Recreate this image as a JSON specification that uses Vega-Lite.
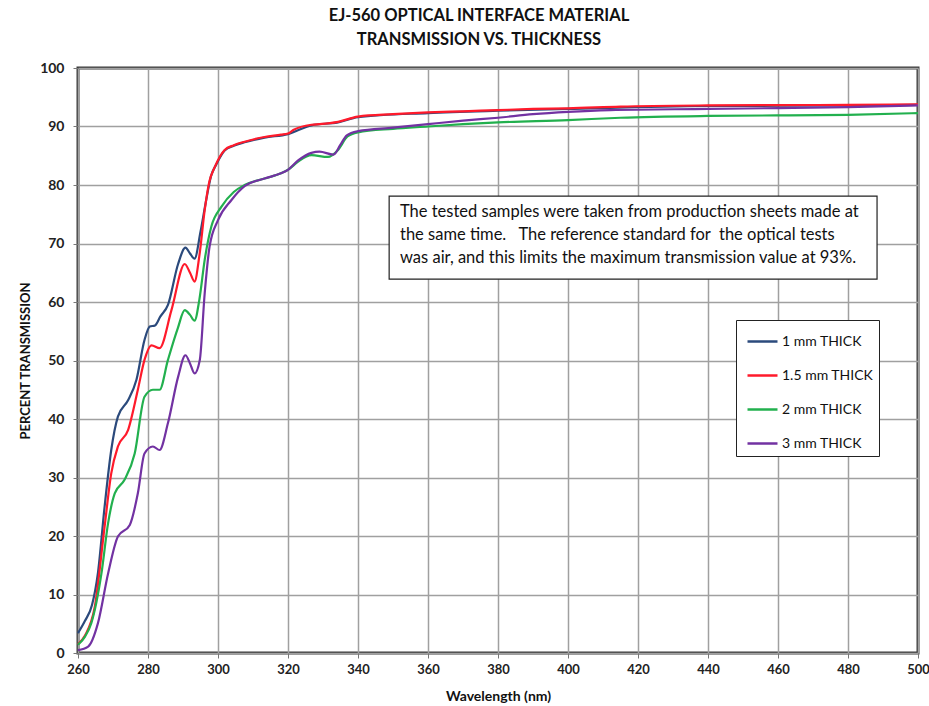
{
  "$schema": "https://vega.github.io/schema/vega-lite/v6.json",
  "width": 840,
  "height": 585,
  "autosize": {"type": "none"},
  "padding": {"left": 78, "top": 68, "right": 11, "bottom": 53},
  "background": "white",
  "title": {
    "text": ["EJ-560 OPTICAL INTERFACE MATERIAL", "TRANSMISSION VS. THICKNESS"],
    "anchor": "middle",
    "frame": "group",
    "dx": -19,
    "offset": 13,
    "fontSize": 16.5,
    "font": "Lato",
    "fontWeight": "bold",
    "lineHeight": 24,
    "color": "#111"
  },
  "config": {
    "view": {"stroke": "#3a3a3a", "strokeWidth": 3},
    "axis": {
      "domain": false,
      "labelFlush": false,
      "gridColor": "#a0a0a0",
      "gridWidth": 1.5,
      "gridOpacity": 1,
      "tickColor": "#777",
      "tickSize": 5,
      "labelFont": "Lato",
      "labelFontWeight": "bold",
      "labelColor": "#222",
      "titleFont": "Lato",
      "titleFontWeight": "bold",
      "titleColor": "#111"
    },
    "legend": {
      "orient": "none",
      "legendX": 658,
      "legendY": 252,
      "symbolType": "stroke",
      "symbolSize": 900,
      "symbolStrokeWidth": 2.5,
      "symbolOffset": 5,
      "labelFont": "Lato",
      "labelFontSize": 14,
      "labelColor": "#111",
      "labelOffset": 3,
      "strokeColor": "#222",
      "fillColor": "white",
      "padding": 5,
      "rowPadding": 10
    }
  },
  "datasets": {
    "spectra": [
      {"sample": "1 mm THICK", "wavelength": 260, "transmission": 3.4},
      {"sample": "1 mm THICK", "wavelength": 262, "transmission": 5.5},
      {"sample": "1 mm THICK", "wavelength": 264, "transmission": 8.2},
      {"sample": "1 mm THICK", "wavelength": 265.7, "transmission": 13.7},
      {"sample": "1 mm THICK", "wavelength": 267.6, "transmission": 25},
      {"sample": "1 mm THICK", "wavelength": 269.5, "transmission": 34.7},
      {"sample": "1 mm THICK", "wavelength": 271.4, "transmission": 40.4},
      {"sample": "1 mm THICK", "wavelength": 274.3, "transmission": 43.2},
      {"sample": "1 mm THICK", "wavelength": 276.7, "transmission": 46.7},
      {"sample": "1 mm THICK", "wavelength": 279, "transmission": 53.5},
      {"sample": "1 mm THICK", "wavelength": 280.5, "transmission": 55.8},
      {"sample": "1 mm THICK", "wavelength": 282, "transmission": 56},
      {"sample": "1 mm THICK", "wavelength": 283.5, "transmission": 57.5},
      {"sample": "1 mm THICK", "wavelength": 285.7, "transmission": 59.5},
      {"sample": "1 mm THICK", "wavelength": 288.6, "transmission": 66.5},
      {"sample": "1 mm THICK", "wavelength": 290.7, "transmission": 69.3},
      {"sample": "1 mm THICK", "wavelength": 292, "transmission": 68.3},
      {"sample": "1 mm THICK", "wavelength": 293.3, "transmission": 67.4},
      {"sample": "1 mm THICK", "wavelength": 295, "transmission": 72},
      {"sample": "1 mm THICK", "wavelength": 296.5, "transmission": 77},
      {"sample": "1 mm THICK", "wavelength": 298, "transmission": 81.5},
      {"sample": "1 mm THICK", "wavelength": 299.5, "transmission": 83.5},
      {"sample": "1 mm THICK", "wavelength": 301.9, "transmission": 85.9},
      {"sample": "1 mm THICK", "wavelength": 304.5, "transmission": 86.7},
      {"sample": "1 mm THICK", "wavelength": 307.6, "transmission": 87.3},
      {"sample": "1 mm THICK", "wavelength": 313.3, "transmission": 88.1},
      {"sample": "1 mm THICK", "wavelength": 320, "transmission": 88.7},
      {"sample": "1 mm THICK", "wavelength": 326.7, "transmission": 90.2},
      {"sample": "1 mm THICK", "wavelength": 334.3, "transmission": 90.7},
      {"sample": "1 mm THICK", "wavelength": 340, "transmission": 91.6},
      {"sample": "1 mm THICK", "wavelength": 360, "transmission": 92.3},
      {"sample": "1 mm THICK", "wavelength": 380, "transmission": 92.7},
      {"sample": "1 mm THICK", "wavelength": 400, "transmission": 93.0},
      {"sample": "1 mm THICK", "wavelength": 440, "transmission": 93.5},
      {"sample": "1 mm THICK", "wavelength": 480, "transmission": 93.6},
      {"sample": "1 mm THICK", "wavelength": 500, "transmission": 93.7},

      {"sample": "1.5 mm THICK", "wavelength": 260, "transmission": 1.5},
      {"sample": "1.5 mm THICK", "wavelength": 262, "transmission": 3},
      {"sample": "1.5 mm THICK", "wavelength": 264.8, "transmission": 7.9},
      {"sample": "1.5 mm THICK", "wavelength": 267.6, "transmission": 21.6},
      {"sample": "1.5 mm THICK", "wavelength": 269.5, "transmission": 30.7},
      {"sample": "1.5 mm THICK", "wavelength": 271.4, "transmission": 35.3},
      {"sample": "1.5 mm THICK", "wavelength": 274.3, "transmission": 38.1},
      {"sample": "1.5 mm THICK", "wavelength": 277.1, "transmission": 45},
      {"sample": "1.5 mm THICK", "wavelength": 279, "transmission": 50.1},
      {"sample": "1.5 mm THICK", "wavelength": 281, "transmission": 52.6},
      {"sample": "1.5 mm THICK", "wavelength": 283.3, "transmission": 52.1},
      {"sample": "1.5 mm THICK", "wavelength": 286.7, "transmission": 58.6},
      {"sample": "1.5 mm THICK", "wavelength": 290.5, "transmission": 66.5},
      {"sample": "1.5 mm THICK", "wavelength": 292, "transmission": 65},
      {"sample": "1.5 mm THICK", "wavelength": 293.3, "transmission": 63.5},
      {"sample": "1.5 mm THICK", "wavelength": 294.7, "transmission": 68},
      {"sample": "1.5 mm THICK", "wavelength": 296.2, "transmission": 75.7},
      {"sample": "1.5 mm THICK", "wavelength": 297.5, "transmission": 80.5},
      {"sample": "1.5 mm THICK", "wavelength": 299.1, "transmission": 83.1},
      {"sample": "1.5 mm THICK", "wavelength": 301.9, "transmission": 86},
      {"sample": "1.5 mm THICK", "wavelength": 304.5, "transmission": 86.8},
      {"sample": "1.5 mm THICK", "wavelength": 307.6, "transmission": 87.4},
      {"sample": "1.5 mm THICK", "wavelength": 313.3, "transmission": 88.2},
      {"sample": "1.5 mm THICK", "wavelength": 318, "transmission": 88.6},
      {"sample": "1.5 mm THICK", "wavelength": 320, "transmission": 88.8},
      {"sample": "1.5 mm THICK", "wavelength": 321.5, "transmission": 89.4},
      {"sample": "1.5 mm THICK", "wavelength": 326.7, "transmission": 90.3},
      {"sample": "1.5 mm THICK", "wavelength": 329, "transmission": 90.4},
      {"sample": "1.5 mm THICK", "wavelength": 334.3, "transmission": 90.8},
      {"sample": "1.5 mm THICK", "wavelength": 340, "transmission": 91.7},
      {"sample": "1.5 mm THICK", "wavelength": 350, "transmission": 92.1},
      {"sample": "1.5 mm THICK", "wavelength": 360, "transmission": 92.4},
      {"sample": "1.5 mm THICK", "wavelength": 370, "transmission": 92.6},
      {"sample": "1.5 mm THICK", "wavelength": 380, "transmission": 92.8},
      {"sample": "1.5 mm THICK", "wavelength": 390, "transmission": 93.0},
      {"sample": "1.5 mm THICK", "wavelength": 400, "transmission": 93.1},
      {"sample": "1.5 mm THICK", "wavelength": 415, "transmission": 93.4},
      {"sample": "1.5 mm THICK", "wavelength": 440, "transmission": 93.6},
      {"sample": "1.5 mm THICK", "wavelength": 460, "transmission": 93.65},
      {"sample": "1.5 mm THICK", "wavelength": 480, "transmission": 93.7},
      {"sample": "1.5 mm THICK", "wavelength": 500, "transmission": 93.8},

      {"sample": "2 mm THICK", "wavelength": 260, "transmission": 1.4},
      {"sample": "2 mm THICK", "wavelength": 262, "transmission": 2.8},
      {"sample": "2 mm THICK", "wavelength": 263.8, "transmission": 5.1},
      {"sample": "2 mm THICK", "wavelength": 266.7, "transmission": 13.6},
      {"sample": "2 mm THICK", "wavelength": 268.6, "transmission": 22.2},
      {"sample": "2 mm THICK", "wavelength": 270.5, "transmission": 27.3},
      {"sample": "2 mm THICK", "wavelength": 273.3, "transmission": 29.6},
      {"sample": "2 mm THICK", "wavelength": 276.2, "transmission": 34.1},
      {"sample": "2 mm THICK", "wavelength": 279, "transmission": 43.8},
      {"sample": "2 mm THICK", "wavelength": 281.4, "transmission": 45},
      {"sample": "2 mm THICK", "wavelength": 283.3, "transmission": 45},
      {"sample": "2 mm THICK", "wavelength": 285.7, "transmission": 50.1},
      {"sample": "2 mm THICK", "wavelength": 288.5, "transmission": 55.5},
      {"sample": "2 mm THICK", "wavelength": 290.5, "transmission": 58.6},
      {"sample": "2 mm THICK", "wavelength": 292, "transmission": 57.8},
      {"sample": "2 mm THICK", "wavelength": 293.3, "transmission": 56.8},
      {"sample": "2 mm THICK", "wavelength": 294.7, "transmission": 60.5},
      {"sample": "2 mm THICK", "wavelength": 296.2, "transmission": 67.2},
      {"sample": "2 mm THICK", "wavelength": 298.1, "transmission": 72.9},
      {"sample": "2 mm THICK", "wavelength": 301, "transmission": 76.3},
      {"sample": "2 mm THICK", "wavelength": 304.5, "transmission": 78.8},
      {"sample": "2 mm THICK", "wavelength": 307.6, "transmission": 80},
      {"sample": "2 mm THICK", "wavelength": 313.3, "transmission": 81.1},
      {"sample": "2 mm THICK", "wavelength": 318, "transmission": 82},
      {"sample": "2 mm THICK", "wavelength": 320, "transmission": 82.6},
      {"sample": "2 mm THICK", "wavelength": 322.9, "transmission": 84},
      {"sample": "2 mm THICK", "wavelength": 326.7, "transmission": 85.1},
      {"sample": "2 mm THICK", "wavelength": 331.4, "transmission": 84.8},
      {"sample": "2 mm THICK", "wavelength": 334.3, "transmission": 86},
      {"sample": "2 mm THICK", "wavelength": 337, "transmission": 88.3},
      {"sample": "2 mm THICK", "wavelength": 340, "transmission": 89.0},
      {"sample": "2 mm THICK", "wavelength": 350, "transmission": 89.6},
      {"sample": "2 mm THICK", "wavelength": 360, "transmission": 90.0},
      {"sample": "2 mm THICK", "wavelength": 370, "transmission": 90.4},
      {"sample": "2 mm THICK", "wavelength": 380, "transmission": 90.7},
      {"sample": "2 mm THICK", "wavelength": 400, "transmission": 91.1},
      {"sample": "2 mm THICK", "wavelength": 415, "transmission": 91.5},
      {"sample": "2 mm THICK", "wavelength": 440, "transmission": 91.8},
      {"sample": "2 mm THICK", "wavelength": 460, "transmission": 91.9},
      {"sample": "2 mm THICK", "wavelength": 480, "transmission": 92.0},
      {"sample": "2 mm THICK", "wavelength": 500, "transmission": 92.3},

      {"sample": "3 mm THICK", "wavelength": 260, "transmission": 0.5},
      {"sample": "3 mm THICK", "wavelength": 262.9, "transmission": 1.1},
      {"sample": "3 mm THICK", "wavelength": 265.7, "transmission": 5.1},
      {"sample": "3 mm THICK", "wavelength": 268.6, "transmission": 13.6},
      {"sample": "3 mm THICK", "wavelength": 271.4, "transmission": 19.9},
      {"sample": "3 mm THICK", "wavelength": 274.8, "transmission": 21.9},
      {"sample": "3 mm THICK", "wavelength": 277.1, "transmission": 27.3},
      {"sample": "3 mm THICK", "wavelength": 279, "transmission": 34.1},
      {"sample": "3 mm THICK", "wavelength": 281.4, "transmission": 35.3},
      {"sample": "3 mm THICK", "wavelength": 283.3, "transmission": 34.7},
      {"sample": "3 mm THICK", "wavelength": 285.7, "transmission": 39.3},
      {"sample": "3 mm THICK", "wavelength": 288.6, "transmission": 47.2},
      {"sample": "3 mm THICK", "wavelength": 290.7, "transmission": 50.9},
      {"sample": "3 mm THICK", "wavelength": 292, "transmission": 49.5},
      {"sample": "3 mm THICK", "wavelength": 293.3, "transmission": 47.8},
      {"sample": "3 mm THICK", "wavelength": 294.8, "transmission": 50.1},
      {"sample": "3 mm THICK", "wavelength": 296.2, "transmission": 61.5},
      {"sample": "3 mm THICK", "wavelength": 297.6, "transmission": 69.5},
      {"sample": "3 mm THICK", "wavelength": 300, "transmission": 74},
      {"sample": "3 mm THICK", "wavelength": 303.8, "transmission": 77.4},
      {"sample": "3 mm THICK", "wavelength": 307.6, "transmission": 79.8},
      {"sample": "3 mm THICK", "wavelength": 313.3, "transmission": 81.1},
      {"sample": "3 mm THICK", "wavelength": 318, "transmission": 82},
      {"sample": "3 mm THICK", "wavelength": 320, "transmission": 82.6},
      {"sample": "3 mm THICK", "wavelength": 322.9, "transmission": 84.2},
      {"sample": "3 mm THICK", "wavelength": 326.7, "transmission": 85.5},
      {"sample": "3 mm THICK", "wavelength": 329, "transmission": 85.7},
      {"sample": "3 mm THICK", "wavelength": 333, "transmission": 85.2},
      {"sample": "3 mm THICK", "wavelength": 334.9, "transmission": 86.8},
      {"sample": "3 mm THICK", "wavelength": 336.8, "transmission": 88.5},
      {"sample": "3 mm THICK", "wavelength": 340, "transmission": 89.2},
      {"sample": "3 mm THICK", "wavelength": 350, "transmission": 89.8},
      {"sample": "3 mm THICK", "wavelength": 360, "transmission": 90.4},
      {"sample": "3 mm THICK", "wavelength": 370, "transmission": 91.0},
      {"sample": "3 mm THICK", "wavelength": 380, "transmission": 91.5},
      {"sample": "3 mm THICK", "wavelength": 390, "transmission": 92.1},
      {"sample": "3 mm THICK", "wavelength": 400, "transmission": 92.5},
      {"sample": "3 mm THICK", "wavelength": 412, "transmission": 92.8},
      {"sample": "3 mm THICK", "wavelength": 440, "transmission": 93.0},
      {"sample": "3 mm THICK", "wavelength": 460, "transmission": 93.15},
      {"sample": "3 mm THICK", "wavelength": 480, "transmission": 93.3},
      {"sample": "3 mm THICK", "wavelength": 500, "transmission": 93.6}
    ],
    "note": [
      {"text": "The tested samples were taken from production sheets made at\nthe same time.\u00a0\u00a0 The reference standard for\u00a0 the optical tests\nwas air, and this limits the maximum transmission value at 93%."}
    ]
  },
  "layer": [
    {
      "data": {"name": "spectra"},
      "mark": {"type": "line", "interpolate": "monotone", "strokeWidth": 2.2},
      "encoding": {
        "x": {
          "field": "wavelength",
          "type": "quantitative",
          "scale": {"domain": [260, 500], "nice": false, "zero": false},
          "axis": {
            "values": [260, 280, 300, 320, 340, 360, 380, 400, 420, 440, 460, 480, 500],
            "title": "Wavelength (nm)",
            "labelFontSize": 13,
            "labelPadding": 5,
            "titleFontSize": 14,
            "titlePadding": 13
          }
        },
        "y": {
          "field": "transmission",
          "type": "quantitative",
          "scale": {"domain": [0, 100], "nice": false},
          "axis": {
            "values": [0, 10, 20, 30, 40, 50, 60, 70, 80, 90, 100],
            "title": "PERCENT TRANSMISSION",
            "labelFontSize": 14,
            "labelPadding": 9,
            "titleFontSize": 13,
            "titlePadding": 7
          }
        },
        "color": {
          "field": "sample",
          "type": "nominal",
          "scale": {
            "domain": ["1 mm THICK", "1.5 mm THICK", "2 mm THICK", "3 mm THICK"],
            "range": ["#2b4a7c", "#ff1a2b", "#22b04e", "#7232a2"]
          },
          "legend": {"title": null, "labelExpr": "datum.label + '\u00a0\u00a0\u00a0\u00a0'"}
        }
      }
    },
    {
      "data": {"name": "note"},
      "mark": {"type": "rect", "fill": "white", "stroke": "#222", "strokeWidth": 1.2},
      "encoding": {
        "x": {"datum": 348.9, "type": "quantitative"},
        "x2": {"datum": 488.3},
        "y": {"datum": 78.1, "type": "quantitative"},
        "y2": {"datum": 63.9}
      }
    },
    {
      "data": {"name": "note"},
      "mark": {"type": "text", "align": "left", "baseline": "top", "font": "Lato", "fontSize": 16.5, "lineHeight": 23, "lineBreak": "\n", "color": "#111"},
      "encoding": {
        "x": {"datum": 352, "type": "quantitative"},
        "y": {"datum": 76.8, "type": "quantitative"},
        "text": {"field": "text"}
      }
    }
  ]
}
